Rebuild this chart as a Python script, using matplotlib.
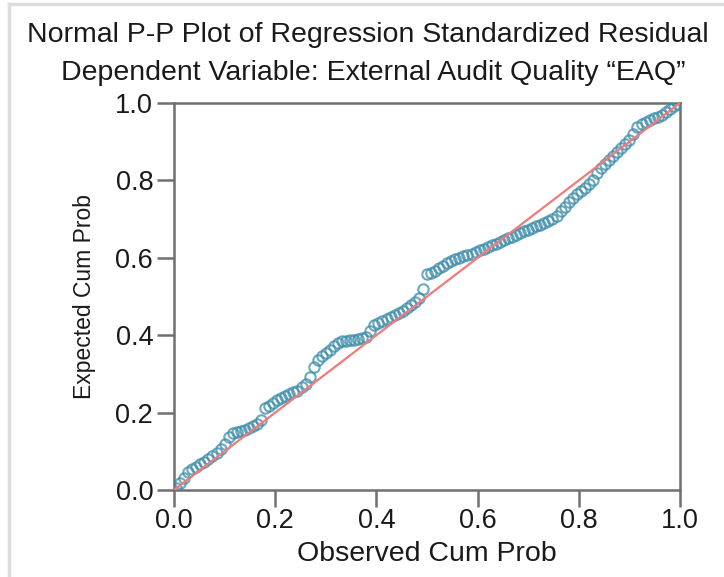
import matplotlib
matplotlib.use("Agg")
import matplotlib.pyplot as plt
from matplotlib.lines import Line2D

plt.rcParams['font.family'] = ['Liberation Sans', 'DejaVu Sans']

title_lines = ["Normal P-P Plot of Regression Standardized Residual",
               "Dependent Variable: External Audit Quality \u201cEAQ\u201d"]
x_label = "Observed Cum Prob"
y_label = "Expected Cum Prob"
tick_values = [0.0, 0.2, 0.4, 0.6, 0.8, 1.0]
tick_labels = ["0.0", "0.2", "0.4", "0.6", "0.8", "1.0"]

observed_cum_prob = [
    0.004, 0.012, 0.020, 0.028, 0.036, 0.044, 0.052, 0.060, 0.068, 0.076,
    0.084, 0.092, 0.100, 0.108, 0.116, 0.124, 0.132, 0.140, 0.148, 0.156,
    0.164, 0.172, 0.180, 0.188, 0.196, 0.204, 0.212, 0.220, 0.228, 0.236,
    0.244, 0.252, 0.260, 0.268, 0.276, 0.284, 0.292, 0.300, 0.308, 0.316,
    0.324, 0.332, 0.340, 0.348, 0.356, 0.364, 0.372, 0.380, 0.388, 0.396,
    0.404, 0.412, 0.420, 0.428, 0.436, 0.444, 0.452, 0.460, 0.468, 0.476,
    0.484, 0.492, 0.500, 0.508, 0.516, 0.524, 0.532, 0.540, 0.548, 0.556,
    0.564, 0.572, 0.580, 0.588, 0.596, 0.604, 0.612, 0.620, 0.628, 0.636,
    0.644, 0.652, 0.660, 0.668, 0.676, 0.684, 0.692, 0.700, 0.708, 0.716,
    0.724, 0.732, 0.740, 0.748, 0.756, 0.764, 0.772, 0.780, 0.788, 0.796,
    0.804, 0.812, 0.820, 0.828, 0.836, 0.844, 0.852, 0.860, 0.868, 0.876,
    0.884, 0.892, 0.900, 0.908, 0.916, 0.924, 0.932, 0.940, 0.948, 0.956,
    0.964, 0.972, 0.980, 0.988, 0.996,
]
expected_cum_prob = [
    0.006, 0.018, 0.032, 0.046, 0.055, 0.060, 0.066, 0.072, 0.079, 0.087,
    0.095, 0.106, 0.118, 0.138, 0.146, 0.150, 0.153, 0.156, 0.160, 0.166,
    0.171, 0.182, 0.211, 0.217, 0.224, 0.232, 0.237, 0.242, 0.247, 0.252,
    0.257, 0.265, 0.273, 0.292, 0.318, 0.336, 0.345, 0.354, 0.363, 0.372,
    0.380, 0.384, 0.386, 0.387, 0.388, 0.390, 0.392, 0.396, 0.412, 0.427,
    0.432, 0.437, 0.443, 0.448, 0.453, 0.458, 0.463, 0.470, 0.478, 0.486,
    0.497, 0.520, 0.557, 0.562, 0.567, 0.573, 0.579, 0.586, 0.592, 0.596,
    0.600, 0.604, 0.608, 0.611, 0.615, 0.619, 0.623, 0.627, 0.632, 0.636,
    0.641, 0.645, 0.650, 0.654, 0.659, 0.663, 0.668, 0.672, 0.677, 0.681,
    0.686, 0.690, 0.695, 0.700, 0.709, 0.720, 0.732, 0.743, 0.754, 0.764,
    0.773, 0.781, 0.790, 0.800, 0.818, 0.832, 0.843, 0.853, 0.863, 0.873,
    0.883, 0.893, 0.905, 0.920, 0.939, 0.946, 0.952, 0.957, 0.961, 0.965,
    0.970, 0.977, 0.984, 0.991, 0.998,
]
reference_line = [0.0, 1.0]

W, H = 724, 577
fig = plt.figure(figsize=(W / 100, H / 100), dpi=100)
fig.patch.set_facecolor('white')

# light gray frame (left and top edges)
fig.add_artist(Line2D([9 / W, 9 / W], [0, 1 - 4 / H], transform=fig.transFigure,
                      color='#dcdcdc', lw=2.5))
fig.add_artist(Line2D([9 / W, 1], [1 - 4 / H, 1 - 4 / H], transform=fig.transFigure,
                      color='#dcdcdc', lw=2.5))

ax = fig.add_axes([174 / W, 1 - 490 / H, (680 - 174) / W, (490 - 103) / H])
ax.plot(observed_cum_prob, expected_cum_prob, linestyle='none', marker='o',
        markersize=7.5, markerfacecolor='none', markeredgecolor='#3b8ca8',
        markeredgewidth=1.5, alpha=0.75, zorder=3)
ax.plot(reference_line, reference_line, color='#f27a7a', lw=1.6, zorder=4)

ax.set_xlim(0, 1)
ax.set_ylim(0, 1)
ax.set_xticks(tick_values)
ax.set_xticklabels(tick_labels)
ax.set_yticks(tick_values)
ax.set_yticklabels(tick_labels)
for s in ax.spines.values():
    s.set_color('#707070')
    s.set_linewidth(1.8)
ax.tick_params(axis='both', direction='out', length=12, width=1.8, color='#707070',
               labelsize=19.5, labelcolor='#1a1a1a', pad=3)
ax.tick_params(axis='x', pad=1)

ax.set_xlabel(x_label, fontsize=20.5, color='#1a1a1a', labelpad=5)
ax.set_ylabel(y_label, fontsize=16.5, color='#1a1a1a', labelpad=14)

fig.text(368 / W, 1 - 35 / H, title_lines[0], ha='center', va='center',
         fontsize=20.5, color='#1a1a1a')
fig.text(373 / W, 1 - 73 / H, title_lines[1], ha='center', va='center',
         fontsize=20.5, color='#1a1a1a')

fig.savefig('out.png', dpi=100, facecolor='white')
